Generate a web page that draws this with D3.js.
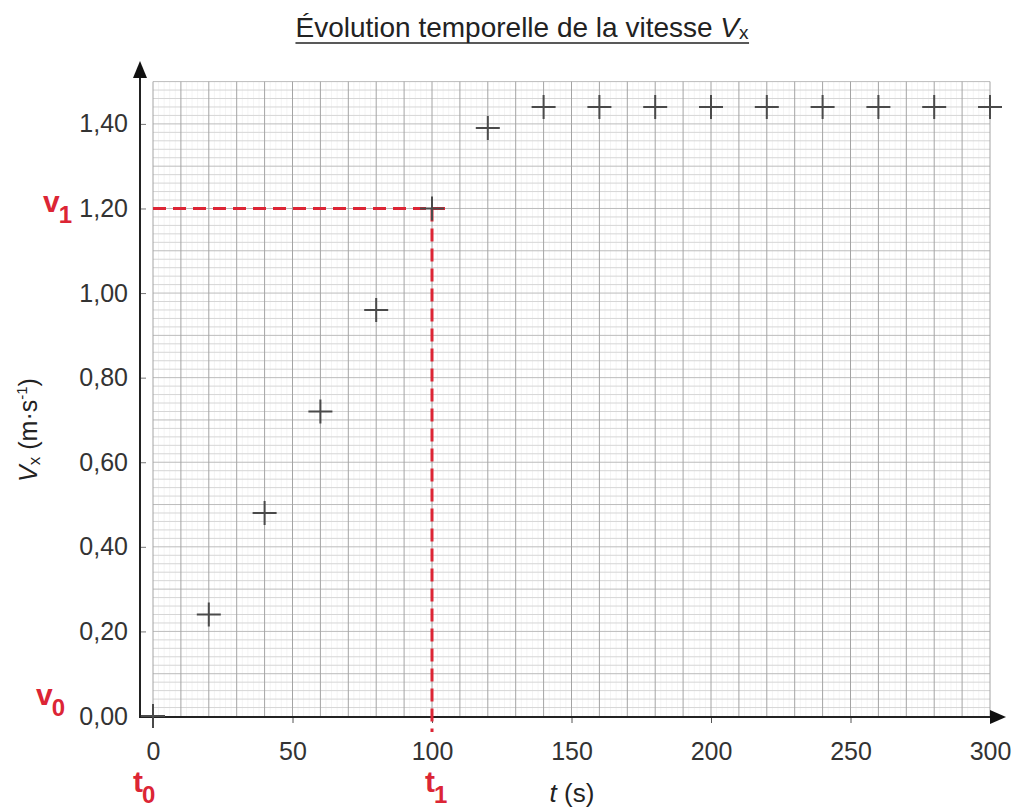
<!DOCTYPE html>
<html>
<head>
<meta charset="utf-8">
<script src="https://cdn.jsdelivr.net/npm/d3@7"></script>
<style>
  body { margin: 0; background: #fff; }
  svg { font-family: "Liberation Sans", Arial, sans-serif; }
</style>
</head>
<body>
<div id="chart"></div>
<script>
const times = [0, 20, 40, 60, 80, 100, 120, 140, 160, 180, 200, 220, 240, 260, 280, 300];
const speeds = [0, 0.24, 0.48, 0.72, 0.96, 1.20, 1.39, 1.44, 1.44, 1.44, 1.44, 1.44, 1.44, 1.44, 1.44, 1.44];
const xTicks = [0, 50, 100, 150, 200, 250, 300];
const yTicks = [0, 0.2, 0.4, 0.6, 0.8, 1.0, 1.2, 1.4];
// reading at t1
const t1 = 100, v1 = 1.20;

const W = 1030, H = 807;
const svg = d3.select("#chart").append("svg").attr("width", W).attr("height", H);

const x = d3.scaleLinear().domain([0, 300]).range([153, 990]);
const y = d3.scaleLinear().domain([0, 1.5]).range([716, 81.6]);

const axX = 140, axY = y(0) + 1;

// grid
const grid = svg.append("g");
grid.selectAll("line.vmin").data(d3.range(0, 301, 2).filter(d => d % 10 != 0))
  .enter().append("line")
  .attr("x1", d => x(d)).attr("x2", d => x(d))
  .attr("y1", y(1.5)).attr("y2", y(0))
  .attr("stroke", "#f4f4f4").attr("stroke-width", 1);
grid.selectAll("line.h").data(d3.range(1, 76).map(i => i * 0.02))
  .enter().append("line")
  .attr("x1", x(0)).attr("x2", x(300))
  .attr("y1", d => y(d)).attr("y2", d => y(d))
  .attr("stroke", (d, i) => (i + 1) % 5 == 0 ? "#bcbcbc" : "#d6d6d6")
  .attr("stroke-width", 1);
grid.selectAll("line.vmaj").data(d3.range(0, 301, 10))
  .enter().append("line")
  .attr("x1", d => x(d)).attr("x2", d => x(d))
  .attr("y1", y(1.5)).attr("y2", y(0))
  .attr("stroke", "#a4a4a4").attr("stroke-width", 1);

// axes (labels via d3 axes, domain drawn by hand with arrows)
const yAxis = d3.axisLeft(y).tickValues(yTicks)
  .tickFormat(d => d3.format(".2f")(d).replace(".", ","))
  .tickSize(-6).tickPadding(12);
const gy = svg.append("g").attr("transform", `translate(${axX},0)`).call(yAxis);
gy.select(".domain").remove();
gy.selectAll("text").attr("font-size", 25).attr("fill", "#333").attr("font-family", "Liberation Sans, Arial, sans-serif");
gy.selectAll("line").attr("stroke", "#777");

const xAxis = d3.axisBottom(x).tickValues(xTicks).tickSize(6).tickPadding(19);
const gx = svg.append("g").attr("transform", `translate(0,${axY})`).call(xAxis);
gx.select(".domain").remove();
gx.selectAll("text").attr("font-size", 25).attr("fill", "#333").attr("font-family", "Liberation Sans, Arial, sans-serif");
gx.selectAll("line").attr("stroke", "#555");

svg.append("line").attr("x1", axX).attr("x2", axX).attr("y1", axY + 1).attr("y2", 75)
  .attr("stroke", "#222").attr("stroke-width", 2);
svg.append("path").attr("d", `M${axX - 7},78 L${axX},61 L${axX + 7},78 Z`).attr("fill", "#111");
svg.append("line").attr("x1", axX - 1).attr("x2", 995).attr("y1", axY).attr("y2", axY)
  .attr("stroke", "#222").attr("stroke-width", 2);
svg.append("path").attr("d", `M990,${axY - 7} L1006,${axY} L990,${axY + 7} Z`).attr("fill", "#111");

// red dashed guides
const red = "#dc2535";
svg.append("line").attr("x1", x(0)).attr("x2", x(t1) + 13).attr("y1", y(v1)).attr("y2", y(v1))
  .attr("stroke", red).attr("stroke-width", 3).attr("stroke-dasharray", "13,7");
svg.append("line").attr("x1", x(t1)).attr("x2", x(t1)).attr("y1", y(v1)).attr("y2", axY + 15)
  .attr("stroke", red).attr("stroke-width", 3).attr("stroke-dasharray", "13,7");

// data crosses
const pts = svg.append("g");
const pairs = times.map((t, i) => [t, speeds[i]]);
pts.selectAll("path").data(pairs).enter().append("path")
  .attr("d", d => `M${x(d[0]) - 12},${y(d[1])} h24 M${x(d[0])},${y(d[1]) - 12} v24`)
  .attr("stroke", "#4a4a4a").attr("stroke-width", 2).attr("fill", "none");

// red labels
function redLabel(px, py, main, sub) {
  const t = svg.append("text").attr("x", px).attr("y", py)
    .attr("fill", red).attr("font-weight", "bold").attr("font-size", 30);
  t.append("tspan").text(main);
  t.append("tspan").attr("dx", -1).attr("dy", 11).attr("font-size", 24).text(sub);
}
redLabel(43, 212, "v", "1");
redLabel(36, 705, "v", "0");
redLabel(133, 792, "t", "0");
redLabel(425, 792, "t", "1");

// title
const title = svg.append("text").attr("x", 522).attr("y", 37).attr("text-anchor", "middle")
  .attr("font-size", 28).attr("fill", "#222");
title.append("tspan").text("Évolution temporelle de la vitesse ");
title.append("tspan").attr("font-style", "italic").text("V");
title.append("tspan").attr("font-size", 19).attr("dy", 2).text("x");
const bb = title.node().getBBox();
svg.append("line").attr("x1", bb.x).attr("x2", bb.x + bb.width).attr("y1", 43).attr("y2", 43)
  .attr("stroke", "#222").attr("stroke-width", 1.5);

// axis titles
const xl = svg.append("text").attr("x", 572).attr("y", 802).attr("text-anchor", "middle")
  .attr("font-size", 26).attr("fill", "#222");
xl.append("tspan").attr("font-style", "italic").text("t");
xl.append("tspan").text(" (s)");

const yl = svg.append("text").attr("transform", "translate(37,430) rotate(-90)")
  .attr("text-anchor", "middle").attr("font-size", 25).attr("fill", "#222");
yl.append("tspan").attr("font-style", "italic").text("V");
yl.append("tspan").attr("font-size", 17).attr("dy", 3).text("x");
yl.append("tspan").attr("dy", -3).text(" (m·s");
yl.append("tspan").attr("font-size", 15).attr("dy", -10).text("-1");
yl.append("tspan").attr("dy", 10).text(")");
</script>
</body>
</html>
